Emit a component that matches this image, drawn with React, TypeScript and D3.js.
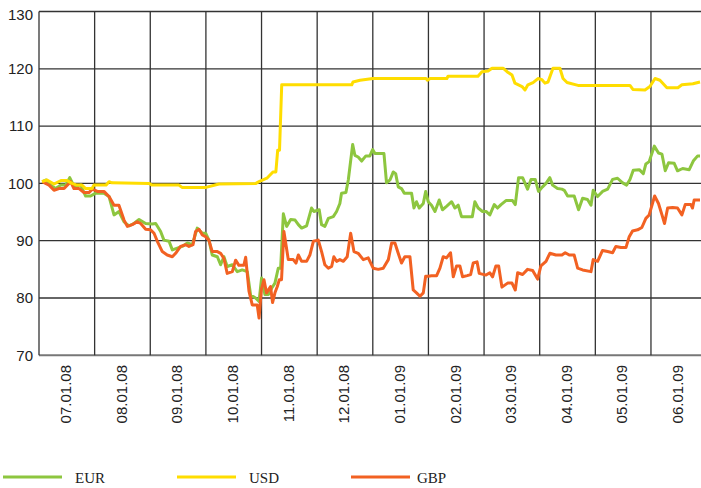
import React from 'react';
import * as d3 from 'd3';

// month labels on the x axis (one band per month)
const months = [
  '07.01.08', '08.01.08', '09.01.08', '10.01.08', '11.01.08', '12.01.08',
  '01.01.09', '02.01.09', '03.01.09', '04.01.09', '05.01.09', '06.01.09',
];
const yTicks = [70, 80, 90, 100, 110, 120, 130];

// [day since 01.07.08, index value]
const eur: [number, number][] = [
  [1.8, 100.3], [4, 100.6], [6.4, 99.7], [9.1, 99.1], [11.8, 99.7], [14.6, 99.7], [16.8, 101],
  [19.1, 99.5], [22.8, 99.7], [25.5, 97.8], [28.2, 97.8], [31, 98.3], [35.5, 98.3], [38.3, 97.7],
  [41, 94.5], [43.7, 95.1], [46.5, 93.3], [49.2, 92.6], [51.9, 93], [54.7, 93.7], [58.3, 93],
  [61.9, 92.9], [63.8, 93], [66.5, 91.6], [68.3, 90.1], [71.1, 89.9], [72.9, 88.4], [75.6, 88.7],
  [78.3, 89], [81.1, 89.6], [83.8, 89.3], [86.5, 92.2], [89.3, 91.3], [91.1, 91.3], [92.9, 90.1],
  [94.7, 87.5], [97.5, 87.2], [99.3, 85.8], [101.1, 87.2], [102.9, 85.5], [105.7, 85.8],
  [108.4, 84.6], [111.1, 84.9], [113.9, 84.6], [115.7, 80.5], [118.4, 80], [120.3, 79.4],
  [121.7, 83.5], [123.5, 80.6], [125.4, 80.6], [127.2, 81.7], [129, 82.6], [130.8, 85.2],
  [132.1, 85.2], [133.6, 94.7], [135.4, 92.5], [137.6, 93.7], [140, 93.6], [141.8, 92.8],
  [143.6, 92.2], [146.3, 92.6], [149, 95.7], [150.3, 95.1], [153.2, 95.4], [154.5, 92.8],
  [156.3, 92.5], [158.2, 93.9], [160.9, 94.2], [162.7, 95.1], [164.5, 96.5], [165.4, 98.3],
  [167.8, 98.4], [169.1, 100.6], [171.5, 106.8], [172.7, 104.9], [174.5, 104.6], [176.4, 103.9],
  [178.7, 104.8], [180.9, 104.8], [182.4, 105.9], [183.7, 105.2], [188.6, 105.2], [190, 100.1],
  [191.9, 100.6], [193.7, 102], [195, 101.7], [196.4, 99.4], [198.2, 99.1], [199.7, 98.3],
  [203.7, 98.3], [205, 95.7], [206.4, 96.8], [207.9, 95.7], [210.1, 96.5], [211.4, 98.6],
  [212.8, 96.8], [214.6, 96.2], [216.5, 95.1], [218.8, 97.1], [220.6, 95.4], [222.8, 96],
  [225.6, 96.8], [227.4, 95.7], [229.2, 96.2], [231, 94.2], [236.9, 94.2], [238.3, 96.8],
  [240.1, 95.7], [242.5, 95.1], [244.4, 95.1], [246.5, 94.5], [248.9, 96.3], [250.7, 95.7],
  [252.6, 96.3], [255.3, 97], [258.9, 97], [260.4, 96.3], [262.2, 101], [264.4, 101],
  [267.1, 99], [269, 100.7], [271.3, 100.7], [273.1, 98.6], [275.3, 99.4], [277.2, 100],
  [279.3, 101], [280.8, 99.7], [283.5, 99.1], [285.9, 99], [287.2, 98.8], [289, 97.8],
  [292.6, 97.8], [295, 95.4], [297.2, 97.4], [299.9, 97.2], [301.8, 96.2], [303, 98.8],
  [305.4, 97.7], [308.1, 98.6], [310.9, 99], [313.6, 100.7], [316.3, 100.9], [319.1, 100.1],
  [321.3, 99.7], [323.1, 100.7], [324.9, 102.3], [328.2, 102.4], [330.4, 101.7], [331.8, 103.4],
  [333.6, 103.8], [336.4, 106.5], [338.7, 105.3], [340.6, 105.1], [342.4, 102.2], [344.2, 103.6],
  [347.3, 103.5], [349.1, 102.2], [351.9, 102.6], [355.5, 102.4], [357.7, 103.9], [360.1, 104.8],
  [361.4, 104.8],
];

const usd: [number, number][] = [
  [1.6, 100.3], [4.4, 100.6], [8.2, 99.9], [12, 100.5], [15.3, 100.5], [18, 100], [20.8, 99.7],
  [23.5, 99.7], [25.5, 99.1], [29, 99.1], [30, 99.7], [36.6, 99.7], [38.3, 100.3], [39.9, 100.1],
  [60.1, 100], [61.8, 99.7], [76.5, 99.7], [78.2, 99.3], [91.3, 99.3], [98.4, 99.9],
  [118.6, 100], [120.3, 100.3], [124.6, 100.9], [127.9, 102], [129.5, 102], [130.5, 105.8],
  [131.5, 105.8], [132.7, 117.2], [171, 117.2], [171.7, 117.7], [175.5, 118], [182.6, 118.3],
  [211.6, 118.3], [212.4, 118], [213.8, 118.3], [223, 118.3], [223.6, 118.7], [240, 118.7],
  [242.2, 119.5], [245.5, 119.6], [247.7, 120.1], [253.7, 120.1], [255.9, 119.5], [258.6, 118.9],
  [260.2, 117.5], [264.1, 116.9], [265.7, 116.3], [267.3, 117.2], [270.1, 117.6], [272.8, 118.3],
  [275, 118.1], [276.6, 117.5], [278.3, 117.7], [281, 120.1], [284.8, 120.1], [286.5, 118.3],
  [288.7, 117.6], [294.7, 117.1], [323.1, 117.1], [324.7, 116.4], [331.3, 116.3], [334, 116.9],
  [336.8, 118.3], [339.5, 118], [343.3, 116.7], [349.3, 116.7], [351.5, 117.2], [357.5, 117.4],
  [361.4, 117.7],
];

const gbp: [number, number][] = [
  [1.8, 100.3], [3.6, 100], [5.5, 99.7], [8.2, 98.8], [10.9, 99.1], [13.7, 99.1], [16.4, 100],
  [17.3, 100.3], [19.1, 99.1], [21.9, 99.1], [24.6, 98.4], [27.3, 98.4], [29.2, 99], [31.9, 98.6],
  [35.5, 98.6], [38.3, 97.7], [41, 96.2], [43.7, 96.2], [46.5, 93.6], [48.3, 92.5], [51, 92.8],
  [53.7, 93.3], [55.6, 93], [58.3, 92], [61, 91.9], [62.9, 91.3], [64.7, 89.9], [67.4, 88.1],
  [70.1, 87.5], [72.9, 87.2], [74.7, 87.8], [77.4, 89], [80.2, 89.3], [82, 89], [84.2, 89.3],
  [85.6, 91.6], [87.5, 92], [89.3, 91], [91.1, 90.7], [92.9, 90.1], [94.7, 88.1], [97.5, 88.1],
  [99.3, 87.8], [101.1, 86.9], [102.9, 84.3], [105.7, 84.6], [107.5, 86.6], [109.3, 85.7],
  [112, 85.7], [113, 87.1], [114.8, 81.2], [116.6, 78.8], [119.3, 78.8], [120.3, 76.5],
  [121.6, 81.5], [123, 83.2], [124.4, 80.9], [126.6, 82], [127.7, 79.2], [129, 80.9],
  [130.3, 82], [131.4, 83.2], [132.6, 83.2], [133.9, 91.6], [136.3, 86.7], [139, 86.7],
  [140.5, 86.1], [141.8, 87.5], [143.6, 86.4], [146.3, 86.4], [148.1, 87.5], [150, 89.9],
  [152.7, 90.1], [154.5, 88.1], [156.3, 85.8], [158.2, 85.2], [160, 85.5], [161.2, 87.2],
  [162.7, 86.4], [164.5, 86.7], [166.4, 86.4], [168.5, 87.2], [170.4, 91.3], [172.2, 88.1],
  [174.5, 87.8], [177.3, 86.7], [180, 87], [182.7, 85.2], [185.5, 85], [188.2, 85.2],
  [191, 86.7], [192.8, 89.6], [194.6, 89.6], [196.4, 87.8], [198.2, 86.1], [200, 87.2],
  [202.8, 87.2], [204.6, 81.4], [206.4, 80.9], [208.3, 80.3], [210.1, 80.9], [211.4, 83.8],
  [212.8, 83.8], [214.6, 83.9], [217.4, 83.9], [219.2, 85.2], [221, 87.2], [222.8, 87],
  [225, 87.9], [226.5, 83.7], [228.3, 85.6], [230.1, 85.6], [231.6, 83.7], [234.1, 83.9],
  [236, 84.1], [237.4, 86.1], [239.5, 86.3], [240.7, 84.3], [244.4, 84], [246.5, 84.4],
  [248, 83.7], [249.8, 85.6], [251.3, 85.6], [253.1, 81.9], [256.2, 82.6], [258.6, 82.6],
  [260.4, 81.4], [261.7, 84.4], [264.4, 84.1], [267.1, 85], [269.9, 84.8], [272.6, 83.3],
  [274.4, 85.6], [277.2, 86.4], [279.3, 87.8], [282.6, 87.5], [285.9, 87.5], [287.7, 87.9],
  [289.9, 87.5], [292.6, 87.5], [294.5, 85.2], [297.2, 84.9], [301.8, 84.6], [303, 86.7],
  [305.4, 86.4], [308.1, 88.3], [310.9, 88.1], [313.6, 87.9], [315.4, 89], [318.2, 88.8],
  [320.9, 88.8], [322.7, 90.7], [324.5, 91.7], [327.3, 91.9], [329.6, 92.3], [331.8, 93.9],
  [333.6, 94.5], [336.6, 97.8], [338.7, 96.5], [340.6, 94.5], [342, 93], [343.7, 95.7],
  [346.4, 95.8], [349.1, 95.7], [351.5, 94.5], [353.3, 96.3], [356.4, 96.3], [357.3, 95.7],
  [358.2, 97.1], [361.4, 97.1],
];

const seriesNames = ['EUR', 'USD', 'GBP'];
const seriesColors = ['#8dc63f', '#ffdd00', '#f26122'];

const W = 701;
const H = 488;
const left = 39;
const top = 11.5;
const bottom = 355.3;
const right = 706.6;

export default function App() {
  const x = d3.scaleLinear().domain([0, 365]).range([left, right]);
  const y = d3.scaleLinear().domain([70, 130]).range([bottom, top]);
  const xBand = d3.scaleBand<string>().domain(months).range([left, right]);

  const line = d3
    .line<[number, number]>()
    .x(d => x(d[0]))
    .y(d => y(d[1]));

  const drawOrder = [
    { data: eur, color: seriesColors[0] },
    { data: gbp, color: seriesColors[2] },
    { data: usd, color: seriesColors[1] },
  ];

  const legendX = [3, 177, 351];

  return (
    <svg
      width={W}
      height={H}
      style={{ position: 'absolute', left: 0, top: 0, background: '#fff' }}
    >
      {/* horizontal grid */}
      {yTicks.map(t => (
        <line
          key={'h' + t}
          x1={left}
          x2={W}
          y1={y(t)}
          y2={y(t)}
          stroke={t === 70 ? '#777' : '#333'}
          strokeWidth={t === 70 ? 2 : 1.3}
        />
      ))}
      {/* vertical grid */}
      {months.map(m => (
        <line
          key={'v' + m}
          x1={xBand(m)!}
          x2={xBand(m)!}
          y1={top}
          y2={bottom}
          stroke="#333"
          strokeWidth={1.3}
        />
      ))}
      {/* y labels */}
      {yTicks.map(t => (
        <text
          key={'yl' + t}
          x={33}
          y={Math.max(y(t), 15)}
          dy="0.35em"
          textAnchor="end"
          fontFamily="'Liberation Sans', Arial, sans-serif"
          fontSize={15}
          fill="#222"
        >
          {t}
        </text>
      ))}
      {/* x labels */}
      {months.map(m => (
        <text
          key={'xl' + m}
          transform={`translate(${xBand(m)! + xBand.bandwidth() / 2 - 1},365) rotate(-90)`}
          dy="0.35em"
          textAnchor="end"
          fontFamily="'Liberation Sans', Arial, sans-serif"
          fontSize={15}
          fill="#222"
        >
          {m}
        </text>
      ))}
      {/* series */}
      {drawOrder.map((s, i) => (
        <path
          key={'s' + i}
          d={line(s.data) || ''}
          fill="none"
          stroke={s.color}
          strokeWidth={3}
          strokeLinejoin="round"
        />
      ))}
      {/* legend */}
      {seriesNames.map((n, i) => (
        <g key={'lg' + n} transform={`translate(${legendX[i]},477)`}>
          <line x1={0} x2={59} y1={0} y2={0} stroke={seriesColors[i]} strokeWidth={3} />
          <text
            x={i === 2 ? 66 : 72}
            y={6}
            fontFamily="'Liberation Serif', 'Times New Roman', serif"
            fontSize={15}
            fill="#222"
          >
            {n}
          </text>
        </g>
      ))}
    </svg>
  );
}
